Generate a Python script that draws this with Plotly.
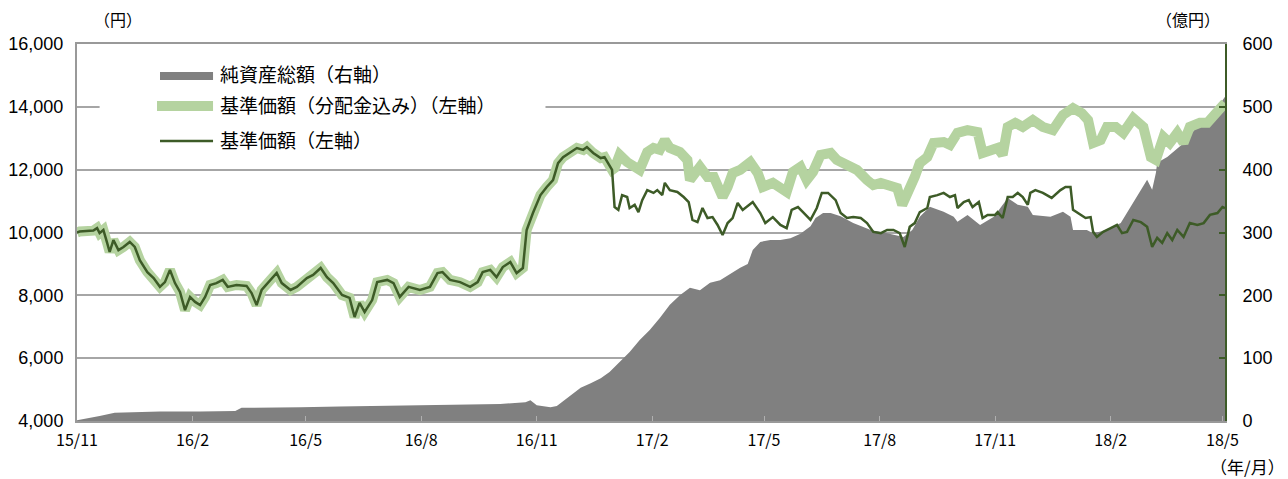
import pandas as pd
import plotly.graph_objects as go

START = pd.Timestamp("2015-11-01")

# ---- 基準価額 (NAV, left axis) : days since 2015-11-01, value in 円 ----
nav_days = [0, 2, 13, 16, 18, 21, 24, 26, 29, 33, 37, 42, 46, 50, 56, 61, 66, 70, 74, 78,
            82, 86, 90, 94, 98, 102, 106, 111, 116, 120, 127, 135, 139, 143, 147, 154, 159, 163, 170, 175,
            183, 188, 194, 199, 204, 211, 217, 221, 225, 229, 235, 239, 247, 252, 257, 264, 273, 281, 287, 291,
            297, 305, 313, 319, 323, 329, 334, 339, 345, 350, 355,
            358, 363, 369, 374, 379, 383, 387, 393, 398, 403, 406, 411, 417, 420, 423, 426,
            428, 431, 434, 438, 440, 444, 447, 450, 454, 459, 462, 466, 468, 472, 478, 483, 487, 490, 494, 498,
            502, 506, 510, 514, 518, 522, 526, 530, 538, 544, 548, 554, 560, 565, 569, 574, 578, 584, 589, 593,
            598, 604, 608, 613, 618, 624, 629, 634, 640, 645, 650, 655, 659, 663, 667, 671, 677, 679, 685, 690,
            695, 699, 701, 706, 710, 713, 718, 721, 725, 731, 733, 737, 741, 745, 749, 753, 757, 759, 763, 769,
            776, 783, 787, 791, 793, 799, 803, 807, 809, 812, 817, 823, 828, 832, 836, 841, 847, 852, 856, 860,
            864, 868, 872, 876, 881, 886, 892, 897, 902, 908, 912, 914]
nav_vals = [10000, 10030, 10060, 10140, 9980, 10080, 9670, 9380, 9760, 9440, 9540, 9700, 9540, 9120, 8740, 8550, 8270, 8420, 8810, 8390,
            8110, 7530, 7950, 7790, 7690, 7950, 8330, 8390, 8490, 8270, 8330, 8300, 8070, 7690, 8170, 8490, 8710, 8390, 8170, 8270,
            8550, 8650, 8870, 8580, 8390, 8010, 7920, 7310, 7760, 7470, 7850, 8420, 8490, 8390, 7950, 8270, 8170, 8270, 8710, 8740,
            8490, 8420, 8270, 8420, 8740, 8810, 8580, 8900, 9060, 8710, 8870,
            10080, 10620, 11190, 11450, 11670, 12210, 12400, 12560, 12690, 12630, 12720, 12530, 12370, 12400, 12210, 11990,
            10810, 10720, 11190, 11130, 10780, 10880, 10650, 11030, 11350, 11260, 11350, 11190, 11580, 11350, 11290, 11130, 10970, 10400, 10330, 10780,
            10460, 10490, 10240, 9920, 10300, 10460, 10940, 10720, 10970, 10620, 10300, 10490, 10240, 10140, 10720, 10810, 10650, 10400, 10780, 11260,
            11260, 11030, 10620, 10460, 10490, 10460, 10300, 10020, 9980, 10080, 10080, 9980, 9540, 10180, 10300, 10650, 10780, 11130, 11190, 11260,
            11130, 11190, 10780, 10970, 11030, 10810, 10970, 10460, 10560, 10560, 10650, 10460, 11130, 11130, 11260, 11130, 10880, 11260, 11350, 11260,
            11100, 11350, 11450, 11450, 10720, 10560, 10460, 10490, 10020, 9860, 10020, 10140, 10240, 9980, 10020, 10400, 10330, 10180, 9540, 9830,
            9670, 9980, 9760, 10080, 9860, 10300, 10240, 10300, 10560, 10620, 10810, 10780]

# ---- 基準価額(分配金込み) : identical to NAV until the first distribution ----
N_SAME = 87
tr_days = nav_days[:N_SAME] + [
    428, 432, 438, 443, 448, 454, 459, 464, 468, 472, 480, 486, 488, 496, 502, 507, 514, 518, 522, 528,
    536, 542, 546, 554, 562, 565, 570, 576, 581, 586, 592, 600, 605, 610, 616, 621, 629, 634, 640, 647,
    653, 657, 662, 667, 671, 677, 682, 690, 695, 701, 709, 717, 721, 727, 733, 737, 741, 747, 753, 761,
    769, 777, 785, 793, 800, 805, 809, 815, 820, 827, 833, 841, 849, 855, 859, 865, 870, 876, 881, 886,
    894, 900, 905, 910, 914]
tr_vals = nav_vals[:N_SAME] + [
    12050, 12470, 12240, 12090, 11990, 12560, 12690, 12630, 12940, 12690, 12560, 12310, 11670, 12090, 11770, 11770, 11130, 11450, 11890, 11990,
    12240, 11890, 11450, 11580, 11420, 11290, 11930, 12090, 11670, 11930, 12470, 12530, 12310, 12210, 12090, 11990, 11670, 11510, 11580, 11510,
    11420, 10880, 11260, 11770, 12210, 12400, 12850, 12880, 12790, 13170, 13260, 13200, 12530, 12630, 12690, 12470, 13360, 13490, 13360, 13580,
    13360, 13260, 13740, 13960, 13800, 13580, 12850, 12940, 13360, 13360, 13170, 13640, 13360, 12400, 12310, 13040, 12850, 13170, 12850, 13360,
    13490, 13490, 13740, 14000, 14120]

# ---- 純資産総額 (net assets, right axis, 億円) ----
aum_days = [0, 6, 18, 30, 42, 66, 98, 126, 131, 146, 178, 209, 241, 273, 305, 337, 357, 361, 366, 377,
            382, 386, 393, 401, 409, 417, 424, 432, 440, 448, 456, 464, 472, 480, 488, 496, 504, 512, 520, 528,
            534, 538, 544, 552, 560, 568, 576, 584, 588, 594, 600, 608, 618, 632, 645, 658, 665, 671, 679, 690,
            698, 701, 709, 719, 730, 741, 749, 757, 761, 775, 785, 791, 793, 804, 809, 820, 831, 841, 847, 852,
            856, 859, 860, 868, 881, 894, 905, 914]
aum_vals = [1, 3, 8, 13, 14, 15, 15, 16, 21, 21, 22, 23, 24, 25, 26, 27, 30, 33, 25, 22,
            24, 30, 40, 53, 60, 68, 78, 94, 110, 129, 145, 164, 185, 200, 212, 208, 220, 224, 234, 244,
            250, 272, 285, 288, 288, 291, 298, 310, 323, 331, 331, 326, 315, 304, 299, 293, 304, 325, 341, 333,
            325, 317, 328, 312, 325, 355, 344, 341, 328, 325, 333, 325, 304, 304, 299, 304, 315, 347, 368, 384,
            368, 395, 411, 420, 442, 474, 490, 516]

x_tick_labels = ["15/11", "16/2", "16/5", "16/8", "16/11", "17/2", "17/5", "17/8", "17/11", "18/2", "18/5"]
left_ticks = [4000, 6000, 8000, 10000, 12000, 14000, 16000]
right_ticks = [0, 100, 200, 300, 400, 500, 600]
END_DAY = 914

legend_names = ["純資産総額（右軸）", "基準価額（分配金込み）（左軸）", "基準価額（左軸）"]


def to_dates(days):
    return [START + pd.Timedelta(days=d) for d in days]


def label_to_date(lbl):
    yy, mm = lbl.split("/")
    return pd.Timestamp(year=2000 + int(yy), month=int(mm), day=1)


GRAY = "#808080"
LIGHT = "#B5D3A0"
DARK = "#3D5B27"
AXGRAY = "#999999"
JP = "Noto Sans CJK JP"
NUM = "Liberation Sans"

fig = go.Figure()
fig.add_trace(go.Scatter(x=to_dates(aum_days), y=aum_vals, mode="lines", fill="tozeroy",
                         line=dict(width=0, color=GRAY), fillcolor=GRAY, yaxis="y",
                         name=legend_names[0], hoverinfo="skip"))
fig.add_trace(go.Scatter(x=to_dates(tr_days), y=tr_vals, mode="lines",
                         line=dict(width=10, color=LIGHT), yaxis="y2", name=legend_names[1]))
fig.add_trace(go.Scatter(x=to_dates(nav_days), y=nav_vals, mode="lines",
                         line=dict(width=2.5, color=DARK), yaxis="y2", name=legend_names[2]))

# page body has an 8px margin, so the figure is 8px smaller than the window
fig.update_layout(
    width=1280, height=471,
    margin=dict(l=69, r=63, t=36, b=58, autoexpand=False),
    paper_bgcolor="white", plot_bgcolor="white",
    showlegend=False,
    xaxis=dict(type="date", range=[START, START + pd.Timedelta(days=END_DAY)],
               tickvals=[label_to_date(l) for l in x_tick_labels], ticktext=x_tick_labels,
               ticks="inside", ticklen=5, tickcolor="#b0b0b0", tickwidth=1,
               showline=True, linecolor=AXGRAY, linewidth=2, mirror=True,
               showgrid=False, zeroline=False, automargin=False,
               tickfont=dict(family=JP, size=16, color="black"), ticklabelstandoff=4),
    yaxis=dict(side="right", range=[0, 600], tickvals=right_ticks,
               showgrid=True, gridcolor="#a6a6a6", gridwidth=2, zeroline=False,
               showline=True, linecolor=DARK, linewidth=2, automargin=False,
               ticks="inside", ticklen=6, tickcolor=DARK, tickwidth=2,
               tickfont=dict(family=NUM, size=18, color="black"), ticklabelstandoff=12),
    yaxis2=dict(side="left", overlaying="y", range=[4000, 16000], tickvals=left_ticks,
                tickformat=",d", showgrid=False, zeroline=False, automargin=False,
                showline=True, linecolor=AXGRAY, linewidth=2, ticks="",
                tickfont=dict(family=NUM, size=18, color="black"), ticklabelstandoff=8),
)

# legend (drawn manually to match the Excel-style legend)
shapes = [
    dict(type="rect", xref="x", yref="y",
         x0=START + pd.Timedelta(days=18), x1=START + pd.Timedelta(days=373), y0=420, y1=582,
         fillcolor="white", line=dict(width=0), layer="between"),
    dict(type="rect", xref="paper", yref="paper", x0=0.0723, x1=0.1185, y0=0.9045, y1=0.9257,
         fillcolor=GRAY, line=dict(width=0), layer="above"),
    dict(type="line", xref="paper", yref="paper", x0=0.0697, x1=0.1185, y0=0.8355, y1=0.8355,
         line=dict(color=LIGHT, width=10), layer="above"),
    dict(type="line", xref="paper", yref="paper", x0=0.0723, x1=0.1185, y0=0.7427, y1=0.7427,
         line=dict(color=DARK, width=2.5), layer="above"),
]
fig.update_layout(shapes=shapes)

annotations = []
for name, yp in zip(legend_names, [0.9230, 0.8382, 0.7454]):
    annotations.append(dict(text=name, xref="paper", yref="paper", x=0.1228, y=yp,
                            xanchor="left", yanchor="middle", showarrow=False,
                            font=dict(family=JP, size=19, color="black")))
annotations += [
    dict(text="（円）", xref="paper", yref="paper", x=0.0357, y=1.0663, xanchor="center", yanchor="middle",
         showarrow=False, font=dict(family=JP, size=16, color="black")),
    dict(text="（億円）", xref="paper", yref="paper", x=0.9678, y=1.0663, xanchor="center", yanchor="middle",
         showarrow=False, font=dict(family=JP, size=16, color="black")),
    dict(text="（年/月）", xref="paper", yref="paper", x=1.0192, y=-0.1194, xanchor="center", yanchor="middle",
         showarrow=False, font=dict(family=JP, size=17, color="black")),
]
fig.update_layout(annotations=annotations)

fig.write_html("out.html")
